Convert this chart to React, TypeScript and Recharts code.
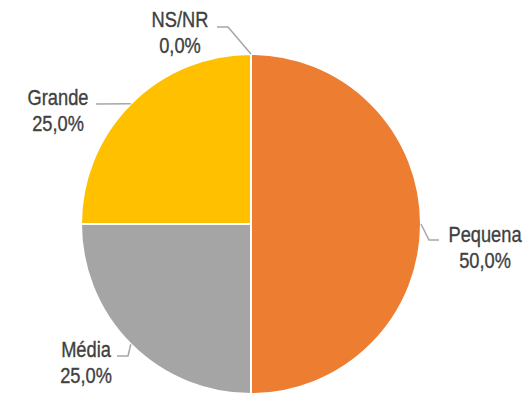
import React from "react";
import { PieChart, Pie, Cell } from "recharts";

const categories = ["Pequena", "Média", "Grande", "NS/NR"];
const values = [50, 25, 25, 0];
const valueLabels = ["50,0%", "25,0%", "25,0%", "0,0%"];
const colors = ["#ED7D31", "#A5A5A5", "#FFC000", "#5B9BD5"];

const data = categories.map((name, i) => ({ name, value: values[i] }));

// label layout relative to the pie centre: text centre x / first baseline y, leader-line points
const LABEL_LAYOUT = [
  { tx: 234, ty: 18, line: [[178, 16], [188, 16]] },
  { tx: -165, ty: 133, line: [[-123, 132], [-134, 132]] },
  { tx: -193, ty: -119, line: [[-155, -120]] },
  { tx: -71, ty: -197, line: [[-23, -197], [-34, -197]] },
];

const RADIAN = Math.PI / 180;

const renderLabel = (props: any) => {
  const { cx, cy, midAngle, outerRadius, index } = props;
  const lay = LABEL_LAYOUT[index];
  if (!lay) return null;
  const ex = cx + outerRadius * Math.cos(-midAngle * RADIAN);
  const ey = cy + outerRadius * Math.sin(-midAngle * RADIAN);
  const pts = [[ex, ey], ...lay.line.map(([x, y]) => [cx + x, cy + y])];
  const tx = cx + lay.tx;
  const ty = cy + lay.ty;
  return (
    <g key={`lbl-${index}`}>
      <polyline
        points={pts.map((p) => p.join(",")).join(" ")}
        fill="none"
        stroke="#A6A6A6"
        strokeWidth={1.5}
      />
      <g transform={`translate(${tx},${ty}) scale(0.83,1)`}>
        <text
          x={0}
          y={0}
          textAnchor="middle"
          fill="#404040"
          stroke="#404040"
          strokeWidth={0.35}
          fontSize={22}
          fontFamily="'Liberation Sans', Arial, sans-serif"
        >
          <tspan x={0} y={0}>{categories[index]}</tspan>
          <tspan x={0} y={26}>{valueLabels[index]}</tspan>
        </text>
      </g>
    </g>
  );
};

export default function App() {
  return (
    <div style={{ position: "absolute", left: 0, top: 0, background: "#fff" }}>
      <PieChart width={531} height={395} margin={{ top: 0, right: 0, bottom: 0, left: 0 }}>
        <Pie
          data={data}
          dataKey="value"
          nameKey="name"
          cx={251}
          cy={224}
          outerRadius={170}
          startAngle={90}
          endAngle={-270}
          stroke="#ffffff"
          strokeWidth={2}
          label={renderLabel}
          labelLine={false}
          isAnimationActive={false}
        >
          {data.map((d, i) => (
            <Cell key={d.name} fill={colors[i]} />
          ))}
        </Pie>
      </PieChart>
    </div>
  );
}
